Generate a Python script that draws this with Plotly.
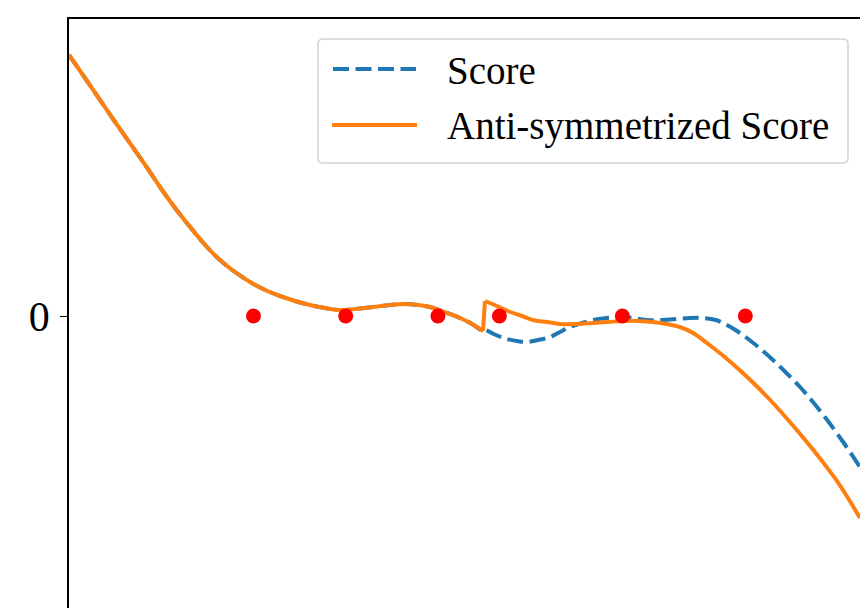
import plotly.graph_objects as go

# Curve shared by both series on the negative side (x < 0)
x_left = [-13.50, -12.98, -12.49, -12.00, -11.51, -11.02, -10.54, -10.05, -9.56, -9.07,
          -8.59, -8.10, -7.61, -7.12, -6.63, -6.15, -5.66, -5.17, -4.68, -4.20,
          -3.61, -3.06, -2.57, -2.15, -1.76, -1.20, -0.78, -0.39, -0.03]
y_left = [2.61, 2.38, 2.16, 1.94, 1.725, 1.51, 1.29, 1.08, 0.89, 0.71,
          0.56, 0.44, 0.34, 0.26, 0.20, 0.15, 0.11, 0.08, 0.06, 0.07,
          0.09, 0.11, 0.12, 0.11, 0.09, 0.03, -0.02, -0.08, -0.15]

# Raw score on the positive side
x_score_right = [0.03, 0.39, 0.75, 1.07, 1.40, 1.76, 2.15, 2.47, 2.80, 3.19,
                 3.54, 4.00, 4.42, 4.85, 5.30, 5.79, 6.28, 6.70, 7.12, 7.54,
                 7.90, 8.23, 8.55, 8.98, 9.40, 9.82, 10.28, 10.70, 11.15, 11.67, 12.23]
y_score_right = [-0.14, -0.19, -0.23, -0.25, -0.26, -0.24, -0.21, -0.16, -0.11, -0.07,
                 -0.04, -0.02, -0.01, -0.02, -0.04, -0.04, -0.03, -0.02, -0.02, -0.04,
                 -0.09, -0.15, -0.22, -0.325, -0.44, -0.565, -0.71, -0.86, -1.035, -1.255, -1.51]

# Anti-symmetrized score on the positive side
x_anti_right = [0.03, 0.42, 0.85, 1.24, 1.59, 2.05, 2.47, 3.02, 3.54, 4.03,
                4.52, 5.01, 5.50, 5.95, 6.37, 6.80, 7.25, 7.77, 8.33, 8.88,
                9.40, 9.95, 10.50, 11.02, 11.58, 12.23]
y_anti_right = [0.15, 0.10, 0.04, 0.00, -0.04, -0.06, -0.08, -0.08, -0.07, -0.06,
                -0.05, -0.05, -0.06, -0.08, -0.11, -0.17, -0.27, -0.395, -0.545, -0.705,
                -0.87, -1.06, -1.26, -1.46, -1.695, -2.02]

# Sample locations (all on the zero line)
x_points = [-7.5, -4.5, -1.5, 0.5, 4.5, 8.5]
y_points = [0, 0, 0, 0, 0, 0]

labels = ["Score", "Anti-symmetrized Score"]
y_ticks = [0]
y_tick_labels = ["0"]

BLUE = "#1f77b4"
ORANGE = "#ff7f0e"
FONT = "Liberation Serif"
LW = 4
DASH = "16px,6.5px"

W, H = 860, 608
ML, MT = 69, 19

fig = go.Figure()
# Score: continuous curve
fig.add_trace(go.Scatter(
    x=x_left + x_score_right, y=y_left + y_score_right, mode="lines",
    line=dict(color=BLUE, width=LW, dash=DASH, shape="spline", smoothing=1),
    name=labels[0], showlegend=False))
# Anti-symmetrized score: smooth on each side, straight jump at the origin
fig.add_trace(go.Scatter(
    x=x_left, y=y_left, mode="lines",
    line=dict(color=ORANGE, width=LW, shape="spline", smoothing=1),
    name=labels[1], showlegend=False))
fig.add_trace(go.Scatter(
    x=[x_left[-1], x_anti_right[0]], y=[y_left[-1], y_anti_right[0]], mode="lines",
    line=dict(color=ORANGE, width=LW), showlegend=False))
fig.add_trace(go.Scatter(
    x=x_anti_right, y=y_anti_right, mode="lines",
    line=dict(color=ORANGE, width=LW, shape="spline", smoothing=1),
    name=labels[1], showlegend=False))
fig.add_trace(go.Scatter(
    x=x_points, y=y_points, mode="markers",
    marker=dict(color="red", size=15, line=dict(width=0)), showlegend=False))


# pixel -> paper helpers for the legend box
def px(p):
    return (p - ML) / (W - ML)


def py(p):
    return (H - p) / (H - MT)


# rounded legend frame
x0, x1, y0, y1, r = 318, 848, 39, 163, 5
rx = r / (W - ML)
ry = r / (H - MT)
X0, X1, Y0, Y1 = px(x0), px(x1), py(y0), py(y1)
path = (f"M{X0 + rx},{Y0} L{X1 - rx},{Y0} Q{X1},{Y0} {X1},{Y0 - ry} "
        f"L{X1},{Y1 + ry} Q{X1},{Y1} {X1 - rx},{Y1} "
        f"L{X0 + rx},{Y1} Q{X0},{Y1} {X0},{Y1 + ry} "
        f"L{X0},{Y0 - ry} Q{X0},{Y0} {X0 + rx},{Y0} Z")
shapes = [
    dict(type="path", path=path, xref="paper", yref="paper",
         fillcolor="rgba(255,255,255,0.8)", line=dict(color="#d4d4d4", width=1.5)),
    dict(type="line", xref="paper", yref="paper", x0=px(333), x1=px(416),
         y0=py(69), y1=py(69), line=dict(color=BLUE, width=LW, dash=DASH)),
    dict(type="line", xref="paper", yref="paper", x0=px(332), x1=px(417),
         y0=py(125), y1=py(125), line=dict(color=ORANGE, width=LW)),
]
annotations = [
    dict(text=labels[0], xref="paper", yref="paper", x=px(445), y=py(70),
         xanchor="left", yanchor="middle", showarrow=False,
         font=dict(family=FONT, size=39, color="black")),
    dict(text=labels[1], xref="paper", yref="paper", x=px(445), y=py(126),
         xanchor="left", yanchor="middle", showarrow=False,
         font=dict(family=FONT, size=39, color="black")),
]

fig.update_layout(
    width=W, height=H,
    margin=dict(l=ML, r=0, t=MT, b=0, pad=0),
    paper_bgcolor="white", plot_bgcolor="white",
    showlegend=False,
    shapes=shapes, annotations=annotations,
    xaxis=dict(range=[-13.50, 12.23], side="top", showline=True, linecolor="black",
               linewidth=1.6, showgrid=False, zeroline=False, ticks="",
               showticklabels=False),
    yaxis=dict(range=[-2.92, 2.97], showline=True, linecolor="black", linewidth=1.6,
               showgrid=False, zeroline=False, ticks="outside", ticklen=7,
               tickwidth=1.4, tickcolor="black", tickvals=y_ticks, ticktext=y_tick_labels,
               ticklabelstandoff=2,
               tickfont=dict(family=FONT, size=42, color="black")),
)

fig.write_html("out.html")
